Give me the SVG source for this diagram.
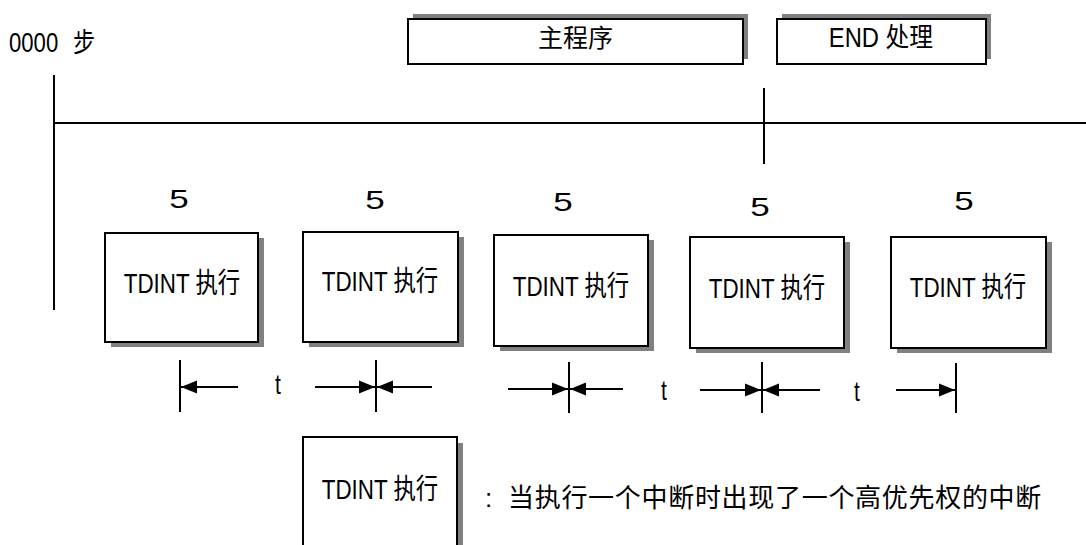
<svg xmlns="http://www.w3.org/2000/svg" width="1086" height="545" viewBox="0 0 1086 545">
<style>
  .t{font-family:"Liberation Sans","Noto Sans CJK SC",sans-serif;fill:#000}
  .box{fill:#fff;stroke:#000;stroke-width:2}
  .sh{fill:#808080}
  .ln{stroke:#000;stroke-width:2;fill:none}
</style>
<defs>
  <marker id="ah" markerUnits="userSpaceOnUse" markerWidth="17" markerHeight="15" viewBox="0 0 17 15" refX="16" refY="7.5" orient="auto">
    <path d="M0,1 L16,7.5 L0,14 Z" fill="#000"/>
  </marker>
</defs>
<rect width="1086" height="545" fill="#fff"/>

<g id="step-label">
  <text class="t" font-size="27" transform="translate(9,52) scale(0.82,1)"><tspan x="0">0000</tspan><tspan x="78">步</tspan></text>
</g>

<g id="main-program">
  <rect class="sh" x="413" y="14" width="335" height="45"/>
  <rect class="box" x="408" y="19" width="335" height="45"/>
  <text class="t" x="575.5" y="47" font-size="25" text-anchor="middle">主程序</text>
</g>

<g id="end-process">
  <rect class="sh" x="782" y="14" width="209" height="45"/>
  <rect class="box" x="777" y="19" width="209" height="45"/>
  <text class="t" font-size="27" text-anchor="middle" transform="translate(881,47) scale(0.88,1)">END 处理</text>
</g>

<g id="tdint-1">
  <text class="t" font-size="25" text-anchor="middle" transform="translate(179,208) scale(1.4,1)">5</text>
  <rect class="sh" x="111" y="238" width="153" height="109"/>
  <rect class="box" x="105" y="233" width="153" height="109"/>
  <text class="t" font-size="28" text-anchor="middle" transform="translate(182,293) scale(0.8,1)">TDINT 执行</text>
</g>

<g id="tdint-2">
  <text class="t" font-size="25" text-anchor="middle" transform="translate(375,209) scale(1.4,1)">5</text>
  <rect class="sh" x="309" y="237" width="155" height="110"/>
  <rect class="box" x="303" y="232" width="155" height="110"/>
  <text class="t" font-size="28" text-anchor="middle" transform="translate(380,291) scale(0.8,1)">TDINT 执行</text>
</g>

<g id="tdint-3">
  <text class="t" font-size="25" text-anchor="middle" transform="translate(563,211) scale(1.4,1)">5</text>
  <rect class="sh" x="500" y="240" width="154" height="111"/>
  <rect class="box" x="494" y="235" width="154" height="111"/>
  <text class="t" font-size="28" text-anchor="middle" transform="translate(571,296) scale(0.8,1)">TDINT 执行</text>
</g>

<g id="tdint-4">
  <text class="t" font-size="25" text-anchor="middle" transform="translate(760,216) scale(1.4,1)">5</text>
  <rect class="sh" x="696" y="242" width="154" height="111"/>
  <rect class="box" x="690" y="237" width="154" height="111"/>
  <text class="t" font-size="28" text-anchor="middle" transform="translate(767,298) scale(0.8,1)">TDINT 执行</text>
</g>

<g id="tdint-5">
  <text class="t" font-size="25" text-anchor="middle" transform="translate(964,210) scale(1.4,1)">5</text>
  <rect class="sh" x="897" y="242" width="155" height="111"/>
  <rect class="box" x="891" y="237" width="155" height="111"/>
  <text class="t" font-size="28" text-anchor="middle" transform="translate(968,297) scale(0.8,1)">TDINT 执行</text>
</g>

<g id="legend">
  <rect class="sh" x="309" y="443" width="154" height="120"/>
  <rect class="box" x="303" y="437" width="154" height="120"/>
  <text class="t" font-size="28" text-anchor="middle" transform="translate(380,499) scale(0.8,1)">TDINT 执行</text>
  <text class="t" font-size="26" y="507"><tspan x="485">:</tspan><tspan x="508" letter-spacing="0.7">当执行一个中断时出现了一个高优先权的中断</tspan></text>
</g>

<g id="connectors">
  <line class="ln" x1="54" y1="75" x2="54" y2="310"/>
  <line class="ln" x1="54" y1="123" x2="1086" y2="123"/>
  <line class="ln" x1="764" y1="88" x2="764" y2="164"/>

  <line class="ln" x1="180" y1="360" x2="180" y2="412"/>
  <line class="ln" x1="238" y1="387" x2="181" y2="387" marker-end="url(#ah)"/>
  <text class="t" font-size="28" text-anchor="middle" transform="translate(278,394) scale(0.75,1)">t</text>

  <line class="ln" x1="315" y1="387" x2="375" y2="387" marker-end="url(#ah)"/>
  <line class="ln" x1="376" y1="360" x2="376" y2="412"/>
  <line class="ln" x1="432" y1="387" x2="377" y2="387" marker-end="url(#ah)"/>

  <line class="ln" x1="508" y1="389" x2="568" y2="389" marker-end="url(#ah)"/>
  <line class="ln" x1="569" y1="362" x2="569" y2="413"/>
  <line class="ln" x1="623" y1="389" x2="570" y2="389" marker-end="url(#ah)"/>
  <text class="t" font-size="28" text-anchor="middle" transform="translate(664,400) scale(0.75,1)">t</text>

  <line class="ln" x1="700" y1="390" x2="761" y2="390" marker-end="url(#ah)"/>
  <line class="ln" x1="762" y1="362" x2="762" y2="413"/>
  <line class="ln" x1="820" y1="390" x2="763" y2="390" marker-end="url(#ah)"/>
  <text class="t" font-size="28" text-anchor="middle" transform="translate(857,401) scale(0.75,1)">t</text>

  <line class="ln" x1="896" y1="390" x2="955" y2="390" marker-end="url(#ah)"/>
  <line class="ln" x1="956" y1="363" x2="956" y2="413"/>
</g>
</svg>
